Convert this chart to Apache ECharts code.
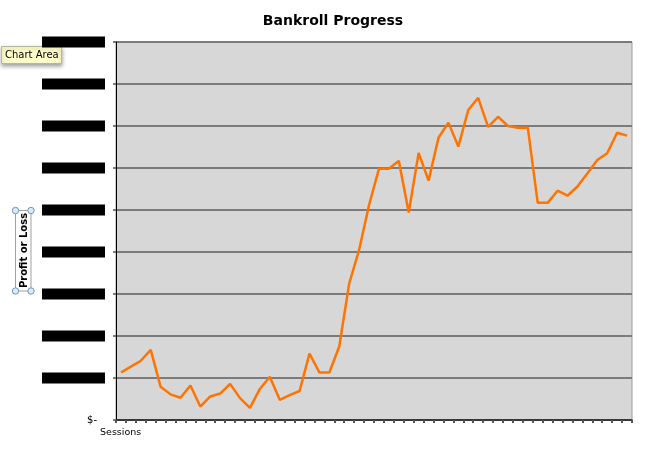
<!DOCTYPE html>
<html>
<head>
<meta charset="utf-8">
<script src="https://cdn.jsdelivr.net/npm/echarts@6/dist/echarts.min.js"></script>
<style>html,body{margin:0;padding:0;background:#fff;}#c{width:666px;height:449px;}</style>
</head>
<body>
<div id="c"></div>
<script>
var sessions = [1,2,3,4,5,6,7,8,9,10,11,12,13,14,15,16,17,18,19,20,21,22,23,24,25,26,
  27,28,29,30,31,32,33,34,35,36,37,38,39,40,41,42,43,44,45,46,47,48,49,50,51,52];
var bankroll = [113,127,141,167,79,61,53,82,32,56,63,86,52,29,74,103,48,59,69,158,113,113,175,325,
  405,512,598,598,617,494,636,570,672,708,651,738,767,698,722,700,696,696,517,517,546,534,556,587,
  619,635,684,677];
var yTicks = [0,100,200,300,400,500,600,700,800,900];
var chartTitle = 'Bankroll Progress';
var yName = 'Profit or Loss';
var xName = 'Sessions';

var chart = echarts.init(document.getElementById('c'));
var F = 'DejaVu Sans';
chart.setOption({
  animation: false,
  backgroundColor: '#ffffff',
  title: {
    text: chartTitle, left: 'center', top: 9,
    textStyle: {fontFamily: F, fontSize: 14, fontWeight: 'bold', color: '#000'}
  },
  grid: {left: 116, right: 34, top: 42, bottom: 29, show: true,
    backgroundColor: '#d7d7d7', borderColor: '#9a9a9a', borderWidth: 1},
  xAxis: {
    type: 'category', data: sessions, boundaryGap: true,
    axisLine: {lineStyle: {color: '#222', width: 1.5}},
    axisTick: {show: true, interval: 0, length: 3, lineStyle: {color: '#555', width: 2}},
    axisLabel: {show: false},
    splitLine: {show: false}
  },
  yAxis: {
    type: 'value', min: yTicks[0], max: yTicks[yTicks.length - 1], interval: 100,
    axisLine: {show: true, lineStyle: {color: '#000', width: 1}},
    axisTick: {show: true, length: 3, lineStyle: {color: '#7b7b7b', width: 2}},
    splitLine: {show: true, lineStyle: {color: '#7b7b7b', width: 2}},
    axisLabel: {
      margin: 11,
      formatter: function (v) { return v === 0 ? '{z|$-}' : '{b|$ ' + v + '}'; },
      rich: {
        z: {fontFamily: F, fontSize: 10, color: '#000', padding: [0, 8, 0, 0]},
        b: {fontFamily: F, fontSize: 9, color: '#000', backgroundColor: '#000',
            width: 63, height: 11, align: 'right'}
      }
    }
  },
  series: [{
    type: 'line', data: bankroll, symbol: 'none',
    lineStyle: {color: '#ff7300', width: 2.5}, itemStyle: {color: '#ff7300'}
  }],
  graphic: [
    {type: 'text', left: 100, top: 428,
     style: {text: xName, fontFamily: F, fontSize: 9.5, fill: '#000'}},
    {type: 'rect', shape: {x: 1.5, y: 46.5, width: 60, height: 17},
     style: {fill: '#ffffcc', stroke: '#b5b5a0', lineWidth: 1,
             shadowBlur: 4, shadowColor: 'rgba(0,0,0,0.35)', shadowOffsetY: 2}},
    {type: 'text', x: 5, y: 55,
     style: {text: 'Chart Area', fontFamily: F, fontSize: 10, fill: '#000', verticalAlign: 'middle'}},
    {type: 'rect', shape: {x: 15.5, y: 210.5, width: 15.5, height: 80.5},
     style: {fill: 'none', stroke: '#a0a0a0', lineWidth: 1}},
    {type: 'text', x: 24, y: 250.5, rotation: Math.PI / 2,
     style: {text: yName, fontFamily: F, fontSize: 10, fontWeight: 'bold', fill: '#000',
             align: 'center', verticalAlign: 'middle'}},
    {type: 'circle', shape: {cx: 15.5, cy: 210.5, r: 3.2}, style: {fill: '#dce9f6', stroke: '#6f97c4', lineWidth: 1}},
    {type: 'circle', shape: {cx: 31, cy: 210.5, r: 3.2}, style: {fill: '#dce9f6', stroke: '#6f97c4', lineWidth: 1}},
    {type: 'circle', shape: {cx: 15.5, cy: 291, r: 3.2}, style: {fill: '#dce9f6', stroke: '#6f97c4', lineWidth: 1}},
    {type: 'circle', shape: {cx: 31, cy: 291, r: 3.2}, style: {fill: '#dce9f6', stroke: '#6f97c4', lineWidth: 1}}
  ]
});
</script>
</body>
</html>
